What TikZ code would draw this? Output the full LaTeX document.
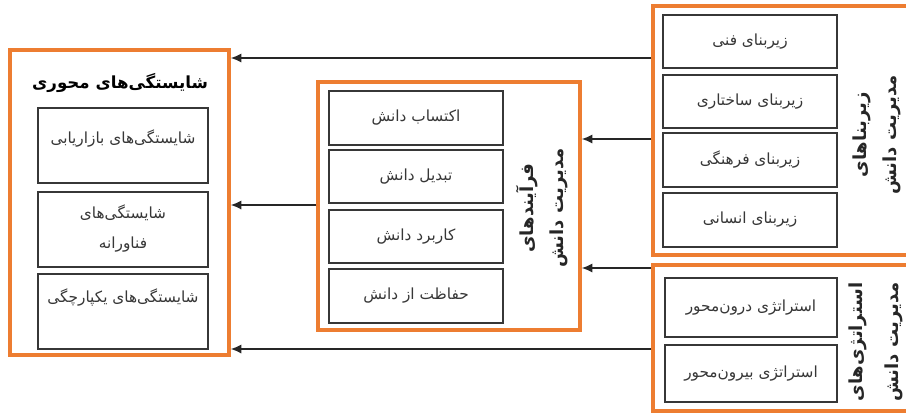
\documentclass[tikz,border=0pt]{standalone}
\usepackage{fontspec}
\usetikzlibrary{arrows.meta,fit}
\TeXXeTstate=1
\newfontfamily\fa[Script=Arabic]{DejaVu Sans}
\definecolor{boxorange}{RGB}{237,125,49}
\definecolor{ink}{RGB}{55,55,55}

\begin{document}
\begin{tikzpicture}[x=0.75pt,y=-0.75pt,
  obox/.style={draw=boxorange, line width=2.6pt, inner sep=0pt},
  ibox/.style={draw=ink, line width=0.8pt, inner sep=0pt},
  itext/.style={text=ink, inner sep=0pt, font=\fa\fontsize{11.5}{22.5}\selectfont, align=center},
  side/.style={rotate=90, inner sep=0pt, align=center, text=black!85,
    font=\fa\bfseries\fontsize{13.5}{22.5}\selectfont},
  arr/.style={draw=black!85, line width=1.2pt, -{Latex[length=8pt,width=7pt]}}]

% canvas
\path[use as bounding box, fill=white] (0,0) rectangle (906,414);
\clip (0,0) rectangle (906,414);

% core competencies (left)
\node[obox, fit={(10,50) (229,355)}] (core) {};
\node[inner sep=0pt, font=\fa\bfseries\fontsize{12.5}{14}\selectfont] (coreT) at (120,83)
  {\beginR شایستگی‌های محوری\endR};
\node[ibox, fit={(38,108) (208,183)}] (c1) {};
\node[ibox, fit={(38,192) (208,267)}] (c2) {};
\node[ibox, fit={(38,274) (208,349)}] (c3) {};
\node[itext] (c1t) at (123,139) {\beginR شایستگی‌های بازاریابی\endR};
\node[itext] (c2t) at (123,228) {\beginR شایستگی‌های\endR\\\beginR فناورانه\endR};
\node[itext] (c3t) at (123,297) {\beginR شایستگی‌های یکپارچگی\endR};

% knowledge management processes (middle)
\node[obox, fit={(318,82) (580,330)}] (proc) {};
\node[ibox, fit={(329,91) (503,145)}] (p1) {};
\node[ibox, fit={(329,150) (503,203)}] (p2) {};
\node[ibox, fit={(329,210) (503,263)}] (p3) {};
\node[ibox, fit={(329,269) (503,323)}] (p4) {};
\node[itext] (p1t) at (p1) {\beginR اکتساب دانش\endR};
\node[itext] (p2t) at (p2) {\beginR تبدیل دانش\endR};
\node[itext] (p3t) at (p3) {\beginR کاربرد دانش\endR};
\node[itext] (p4t) at (p4) {\beginR حفاظت از دانش\endR};
\node[side] (procT) at (542,208) {\beginR فرآیندهای\endR\\\beginR مدیریت دانش\endR};

% knowledge management infrastructures (top right)
\node[obox, fit={(653,6) (930,255)}] (infra) {};
\node[ibox, fit={(663,15) (837,68)}] (i1) {};
\node[ibox, fit={(663,75) (837,128)}] (i2) {};
\node[ibox, fit={(663,133) (837,187)}] (i3) {};
\node[ibox, fit={(663,193) (837,247)}] (i4) {};
\node[itext] (i1t) at (i1) {\beginR زیربنای فنی\endR};
\node[itext] (i2t) at (i2) {\beginR زیربنای ساختاری\endR};
\node[itext] (i3t) at (i3) {\beginR زیربنای فرهنگی\endR};
\node[itext] (i4t) at (i4) {\beginR زیربنای انسانی\endR};
\node[side] (infraT) at (877,135) {\beginR زیربناهای\endR\\\beginR مدیریت دانش\endR};

% knowledge management strategies (bottom right)
\node[obox, fit={(653,265) (930,411)}] (strat) {};
\node[ibox, fit={(665,278) (837,337)}] (s1) {};
\node[ibox, fit={(665,345) (837,402)}] (s2) {};
\node[itext] (s1t) at (s1) {\beginR استراتژی درون‌محور\endR};
\node[itext] (s2t) at (s2) {\beginR استراتژی بیرون‌محور\endR};
\node[side, font=\fa\bfseries\fontsize{13.5}{27}\selectfont] (stratT) at (876,342)
  {\beginR استراتژی‌های\endR\\\beginR مدیریت دانش\endR};

% influences
\draw[arr] (infra.west |- 0,58) -- (core.east |- 0,58);
\draw[arr] (infra.west |- 0,139) -- (proc.east |- 0,139);
\draw[arr] (strat.west |- 0,268) -- (proc.east |- 0,268);
\draw[arr] (proc.west |- 0,205) -- (core.east |- 0,205);
\draw[arr] (strat.west |- 0,349) -- (core.east |- 0,349);
\end{tikzpicture}
\end{document}
